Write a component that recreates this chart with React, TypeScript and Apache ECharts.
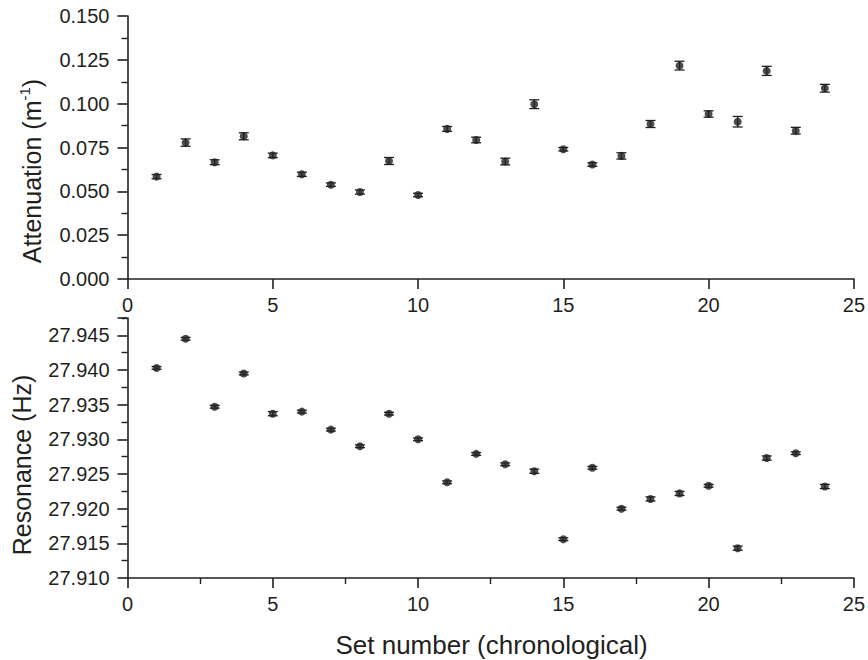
import React, { useEffect, useRef } from "react";
import * as echarts from "echarts";

// Measurement set index (chronological order)
const setNumber = [1, 2, 3, 4, 5, 6, 7, 8, 9, 10, 11, 12, 13, 14, 15, 16, 17, 18, 19, 20, 21, 22, 23, 24];

// Attenuation coefficient (m^-1) and its uncertainty
const attenuation = [
  0.0584, 0.0778, 0.0666, 0.0814, 0.0705, 0.0597, 0.0538, 0.0496, 0.0673, 0.0479, 0.0856, 0.0793,
  0.067, 0.0997, 0.074, 0.0653, 0.0702, 0.0884, 0.1217, 0.0941, 0.0897, 0.1187, 0.0846, 0.1088,
];
const attenuationErr = [
  0.0012, 0.0021, 0.0014, 0.002, 0.0013, 0.0012, 0.001, 0.0012, 0.002, 0.001, 0.0014, 0.0016,
  0.0019, 0.0025, 0.001, 0.001, 0.0018, 0.002, 0.0025, 0.0018, 0.003, 0.0026, 0.0019, 0.0022,
];

// Resonance frequency (Hz) and its uncertainty
const resonance = [
  27.9403, 27.9445, 27.9347, 27.9395, 27.9337, 27.934, 27.9314, 27.929, 27.9337, 27.93, 27.9238, 27.9279,
  27.9264, 27.9254, 27.9156, 27.9259, 27.92, 27.9214, 27.9222, 27.9233, 27.9143, 27.9273, 27.928, 27.9232,
];
const resonanceErr = [
  0.0002, 0.0002, 0.0002, 0.0002, 0.0003, 0.0002, 0.0002, 0.0002, 0.0002, 0.0002, 0.0002, 0.0002,
  0.0002, 0.0003, 0.0002, 0.0002, 0.0002, 0.0003, 0.0003, 0.0002, 0.0003, 0.0003, 0.0002, 0.0003,
];

const xTicks = [0, 5, 10, 15, 20, 25];

const INK = "#231f20";
const FONT = "'Liberation Sans', Arial, Helvetica, sans-serif";

function errorBarSeries(values: number[], errs: number[], axisIndex: number) {
  return {
    type: "custom",
    xAxisIndex: axisIndex,
    yAxisIndex: axisIndex,
    z: 2,
    silent: true,
    encode: { x: 0, y: 1 },
    data: setNumber.map((n, i) => [n, values[i], errs[i]]),
    renderItem: (_params: any, api: any) => {
      const x = api.value(0);
      const y = api.value(1);
      const e = api.value(2);
      const lo = api.coord([x, y - e]);
      const hi = api.coord([x, y + e]);
      const hw = 5;
      const style = { stroke: INK, lineWidth: 1.3 };
      return {
        type: "group",
        children: [
          { type: "line", shape: { x1: lo[0], y1: lo[1], x2: hi[0], y2: hi[1] }, style },
          { type: "line", shape: { x1: lo[0] - hw, y1: lo[1], x2: lo[0] + hw, y2: lo[1] }, style },
          { type: "line", shape: { x1: hi[0] - hw, y1: hi[1], x2: hi[0] + hw, y2: hi[1] }, style },
        ],
      };
    },
  };
}

function pointSeries(values: number[], axisIndex: number) {
  return {
    type: "scatter",
    xAxisIndex: axisIndex,
    yAxisIndex: axisIndex,
    z: 3,
    symbol: "circle",
    symbolSize: 8,
    itemStyle: { color: INK },
    data: setNumber.map((n, i) => [n, values[i]]),
  };
}

const axisLineStyle = { show: true, lineStyle: { color: INK, width: 1.6 } };
const labelStyle = { color: INK, fontSize: 20, fontFamily: FONT, margin: 18 };

function xAxisFor(gridIndex: number, minor: boolean) {
  return {
    type: "value",
    gridIndex,
    min: xTicks[0],
    max: xTicks[xTicks.length - 1],
    interval: xTicks[1] - xTicks[0],
    axisLine: { ...axisLineStyle, onZero: false },
    axisTick: { show: true, inside: false, length: 10, lineStyle: { color: INK, width: 1.6 } },
    minorTick: { show: minor, splitNumber: 2, length: 6, lineStyle: { color: INK, width: 1.4 } },
    splitLine: { show: false },
    minorSplitLine: { show: false },
    axisLabel: { ...labelStyle, margin: 16, formatter: (v: number) => String(Math.round(v)) },
  };
}

export default function App() {
  const ref = useRef<HTMLDivElement>(null);

  useEffect(() => {
    if (!ref.current) return;
    const chart = echarts.init(ref.current, undefined, { renderer: "svg" });

    chart.setOption({
      animation: false,
      backgroundColor: "#ffffff",
      grid: [
        { left: 127.5, width: 727.5, top: 16, height: 263 },
        { left: 127.5, width: 727.5, top: 318, height: 260 },
      ],
      xAxis: [xAxisFor(0, false), xAxisFor(1, true)],
      yAxis: [
        {
          type: "value",
          gridIndex: 0,
          min: 0,
          max: 0.15,
          interval: 0.025,
          axisLine: { ...axisLineStyle, onZero: false },
          axisTick: { show: true, inside: false, length: 10, lineStyle: { color: INK, width: 1.6 } },
          minorTick: { show: true, splitNumber: 2, length: 6, lineStyle: { color: INK, width: 1.4 } },
          splitLine: { show: false },
          minorSplitLine: { show: false },
          axisLabel: { ...labelStyle, formatter: (v: number) => v.toFixed(3) },
        },
        {
          type: "value",
          gridIndex: 1,
          min: 27.91,
          max: 27.9475,
          interval: 0.005,
          axisLine: { ...axisLineStyle, onZero: false },
          axisTick: { show: true, inside: false, length: 10, lineStyle: { color: INK, width: 1.6 } },
          minorTick: { show: true, splitNumber: 2, length: 6, lineStyle: { color: INK, width: 1.4 } },
          splitLine: { show: false },
          minorSplitLine: { show: false },
          axisLabel: { ...labelStyle, showMaxLabel: false, formatter: (v: number) => v.toFixed(3) },
        },
      ],
      series: [
        errorBarSeries(attenuation, attenuationErr, 0),
        pointSeries(attenuation, 0),
        errorBarSeries(resonance, resonanceErr, 1),
        pointSeries(resonance, 1),
      ],
      graphic: [
        {
          type: "text",
          x: 30.5,
          y: 171,
          rotation: Math.PI / 2,
          style: {
            text: "{a|Attenuation (m}{s|-1}{a|)}",
            align: "center",
            verticalAlign: "middle",
            rich: {
              a: { fontSize: 25, fontFamily: FONT, fill: INK, color: INK, lineHeight: 28, verticalAlign: "bottom" },
              s: { fontSize: 15, fontFamily: FONT, fill: INK, color: INK, lineHeight: 28, verticalAlign: "top" },
            },
          },
        },
        {
          type: "text",
          x: 21.5,
          y: 465,
          rotation: Math.PI / 2,
          style: {
            text: "Resonance (Hz)",
            align: "center",
            verticalAlign: "middle",
            fontSize: 25,
            fontFamily: FONT,
            fill: INK,
          },
        },
        {
          type: "text",
          x: 491.5,
          y: 645,
          style: {
            text: "Set number (chronological)",
            align: "center",
            verticalAlign: "middle",
            fontSize: 26,
            fontFamily: FONT,
            fill: INK,
          },
        },
      ],
    });

    return () => chart.dispose();
  }, []);

  return (
    <div
      ref={ref}
      style={{ position: "fixed", left: 0, top: 0, width: 868, height: 660, background: "#fff" }}
    />
  );
}
